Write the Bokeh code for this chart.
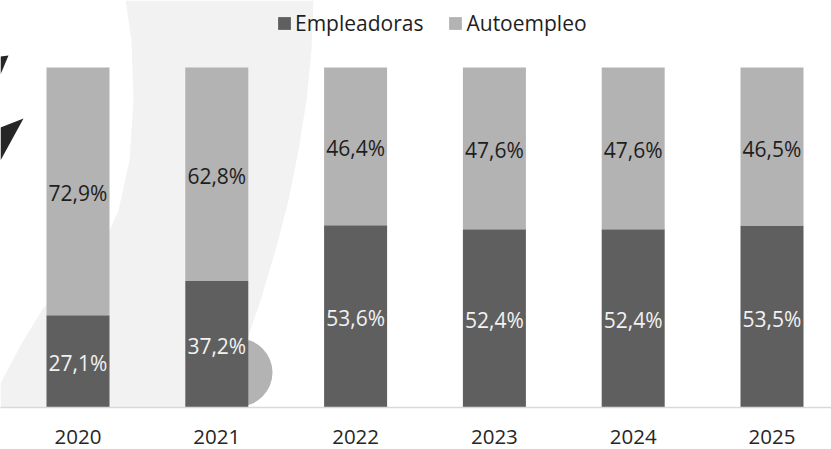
import numpy as np
from bokeh.plotting import figure
from bokeh.models import ColumnDataSource, Range1d, LabelSet, FixedTicker
from bokeh.core.properties import value
from bokeh.embed import file_html
from bokeh.resources import INLINE

# ---- data ----
years = ["2020", "2021", "2022", "2023", "2024", "2025"]
empleadoras = [27.1, 37.2, 53.6, 52.4, 52.4, 53.5]
autoempleo = [72.9, 62.8, 46.4, 47.6, 47.6, 46.5]
series = ["Empleadoras", "Autoempleo"]

DARK = "#5f5f5f"
LIGHT = "#b3b3b3"
FONT = "Open Sans"

def fmt(v):
    return f"{v:.1f}".replace(".", ",") + "%"

xs = list(range(len(years)))
src = ColumnDataSource(dict(
    x=xs,
    Empleadoras=empleadoras,
    Autoempleo=autoempleo,
    emp_mid=[e / 2 for e in empleadoras],
    auto_mid=[e + a / 2 for e, a in zip(empleadoras, autoempleo)],
    emp_lbl=[fmt(v) for v in empleadoras],
    auto_lbl=[fmt(v) for v in autoempleo],
))

# frame: 831 x 407 px ; category pitch 138.8 px ; 100% = 340 px
PITCH = 138.8
X0 = 77.5              # first category centre, px from frame left
PXY = 3.4              # px per percentage point
FW, FH = 831, 407
x_start = -X0 / PITCH
x_end = x_start + FW / PITCH
y_end = FH / PXY

p = figure(frame_width=FW, frame_height=FH,
           x_range=Range1d(x_start, x_end), y_range=Range1d(0, y_end),
           y_axis_location=None, output_backend="svg", toolbar_location=None,
           min_border=0, min_border_bottom=42,
           background_fill_color="white", border_fill_color="white")

# ---- decorative watermark (background, page pixel coordinates) ----
def dx(px):
    return (px - X0) / PITCH

def dy(py):
    return (FH - py) / PXY

outer = [(313, 0), (311, 50), (306, 100), (298, 150), (288, 200), (275, 250),
         (260, 300), (243, 350), (225, 400), (206, 449)]
inner = [(125, 0), (131, 40), (133, 100), (129, 160), (118, 210), (100, 250),
         (70, 285), (43, 307), (20, 345), (0, 383)]
poly = outer + [(0, 449)] + inner[::-1]
p.patch([dx(a) for a, b in poly], [dy(b) for a, b in poly],
        fill_color="#f2f2f2", line_color=None)
for tri in ([(0, 56), (8, 55), (0, 74)], [(0, 127), (23, 118), (0, 160)]):
    p.patch([dx(a) for a, b in tri], [dy(b) for a, b in tri],
            fill_color="#262626", line_color=None)
p.scatter([dx(238)], [dy(372)], size=68, marker="circle",
          fill_color=LIGHT, line_color=None)

# ---- bars ----
p.vbar_stack(series, x="x", width=63 / PITCH, color=[DARK, LIGHT],
             line_color=None, source=src, legend_label=series)

p.add_layout(LabelSet(x="x", y="emp_mid", text="emp_lbl", source=src,
                      text_align="center", text_baseline="middle",
                      text_font=value(FONT), text_font_size="21px",
                      text_color="#f2f2f2", y_offset=-2))
p.add_layout(LabelSet(x="x", y="auto_mid", text="auto_lbl", source=src,
                      text_align="center", text_baseline="middle",
                      text_font=value(FONT), text_font_size="21px",
                      text_color="#1e1e1e", y_offset=-2))

# ---- axis ----
ax = p.xaxis[0]
ax.ticker = FixedTicker(ticks=xs)
ax.major_label_overrides = {i: y for i, y in enumerate(years)}
ax.axis_line_color = "#d9d9d9"
ax.axis_line_width = 1.5
ax.major_tick_line_color = None
ax.minor_tick_line_color = None
ax.major_label_text_font = FONT
ax.major_label_text_font_size = "20.5px"
ax.major_label_text_color = "#262626"
ax.major_label_standoff = 16

p.xgrid.visible = False
p.ygrid.visible = False
p.outline_line_color = None

# ---- legend ----
lg = p.legend[0]
lg.orientation = "horizontal"
lg.location = (276, 370)
lg.border_line_color = None
lg.background_fill_alpha = 0
lg.padding = 0
lg.margin = 0
lg.spacing = 24
lg.label_standoff = 3
lg.glyph_width = 16
lg.glyph_height = 16
lg.label_text_font = FONT
lg.label_text_font_size = "21px"
lg.label_text_color = "#1e1e1e"

open("out.html", "w").write(file_html(p, INLINE))
